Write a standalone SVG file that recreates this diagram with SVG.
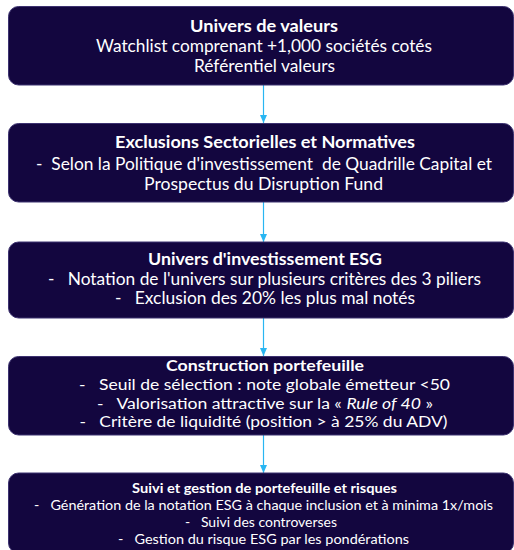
<svg xmlns="http://www.w3.org/2000/svg" width="514" height="550" viewBox="0 0 514 550">
<defs>
<style>
.box{fill:#13063f;stroke:#3d3270;stroke-width:1}
text{font-family:Lato,"Open Sans","Liberation Sans",sans-serif;fill:#ffffff;text-anchor:middle}
.t{font-weight:bold;font-size:17px}
.l{font-size:17px}
.t4{font-weight:bold;font-size:16px}
.l4{font-size:15.5px}
.t5{font-weight:bold;font-size:13.5px}
.l5{font-size:13.5px}
.conn{stroke:#29b6f2;stroke-width:1.2;fill:none}
</style>
<marker id="ah" markerWidth="8" markerHeight="7" refX="8" refY="3.5" orient="auto" markerUnits="userSpaceOnUse">
<path d="M0,0 L8,3.5 L0,7 Z" fill="#29b6f2"/>
</marker>
</defs>
<rect width="514" height="550" fill="#ffffff"/>
<g id="connectors">
<line class="conn" x1="263.5" y1="85" x2="263.5" y2="123" marker-end="url(#ah)"/>
<line class="conn" x1="263.5" y1="202" x2="263.5" y2="242" marker-end="url(#ah)"/>
<line class="conn" x1="263.5" y1="318" x2="263.5" y2="356" marker-end="url(#ah)"/>
<line class="conn" x1="263.5" y1="435" x2="263.5" y2="473" marker-end="url(#ah)"/>
</g>
<g id="node1">
<rect class="box" x="8.5" y="6.5" width="505" height="78.5" rx="10"/>
<text class="t" x="264" y="32" textLength="148" lengthAdjust="spacingAndGlyphs">Univers de valeurs</text>
<text class="l" x="264" y="52" textLength="336" lengthAdjust="spacingAndGlyphs">Watchlist comprenant +1,000 sociétés cotés</text>
<text class="l" x="264.5" y="72" textLength="141" lengthAdjust="spacingAndGlyphs">Référentiel valeurs</text>
</g>
<g id="node2">
<rect class="box" x="8.5" y="123.5" width="505" height="78.5" rx="10"/>
<text class="t" x="265" y="148" textLength="300" lengthAdjust="spacingAndGlyphs">Exclusions Sectorielles et Normatives</text>
<text class="l" x="264" y="170" textLength="456" lengthAdjust="spacingAndGlyphs" xml:space="preserve">-  Selon la Politique d'investissement  de Quadrille Capital et</text>
<text class="l" x="263.5" y="190" textLength="239" lengthAdjust="spacingAndGlyphs">Prospectus du Disruption Fund</text>
</g>
<g id="node3">
<rect class="box" x="8.5" y="242" width="505" height="76" rx="10"/>
<text class="t" x="265" y="265" textLength="234" lengthAdjust="spacingAndGlyphs">Univers d'investissement ESG</text>
<text class="l" x="264.5" y="285" textLength="433" lengthAdjust="spacingAndGlyphs" xml:space="preserve">-   Notation de l'univers sur plusieurs critères des 3 piliers</text>
<text class="l" x="265" y="304" textLength="300" lengthAdjust="spacingAndGlyphs" xml:space="preserve">-   Exclusion des 20% les plus mal notés</text>
</g>
<g id="node4">
<rect class="box" x="8.5" y="356.5" width="505" height="78.5" rx="10"/>
<text class="t4" x="265" y="371" textLength="198" lengthAdjust="spacingAndGlyphs">Construction portefeuille</text>
<text class="l4" x="264.5" y="390" textLength="371" lengthAdjust="spacingAndGlyphs" xml:space="preserve">-   Seuil de sélection : note globale émetteur &lt;50</text>
<text class="l4" x="265" y="408.5" textLength="336" lengthAdjust="spacingAndGlyphs" xml:space="preserve">-   Valorisation attractive sur la « <tspan font-style="italic">Rule of 40</tspan> »</text>
<text class="l4" x="263.5" y="427" textLength="368" lengthAdjust="spacingAndGlyphs" xml:space="preserve">-   Critère de liquidité (position &gt; à 25% du ADV)</text>
</g>
<g id="node5">
<rect class="box" x="8.5" y="473" width="505" height="80" rx="10"/>
<text class="t5" x="264.5" y="493" textLength="265" lengthAdjust="spacingAndGlyphs">Suivi et gestion de portefeuille et risques</text>
<text class="l5" x="263.5" y="510" textLength="459" lengthAdjust="spacingAndGlyphs" xml:space="preserve">-   Génération de la notation ESG à chaque inclusion et à minima 1x/mois</text>
<text class="l5" x="261" y="527" textLength="152" lengthAdjust="spacingAndGlyphs" xml:space="preserve">-   Suivi des controverses</text>
<text class="l5" x="263.5" y="544" textLength="291" lengthAdjust="spacingAndGlyphs" xml:space="preserve">-   Gestion du risque ESG par les pondérations</text>
</g>
</svg>
